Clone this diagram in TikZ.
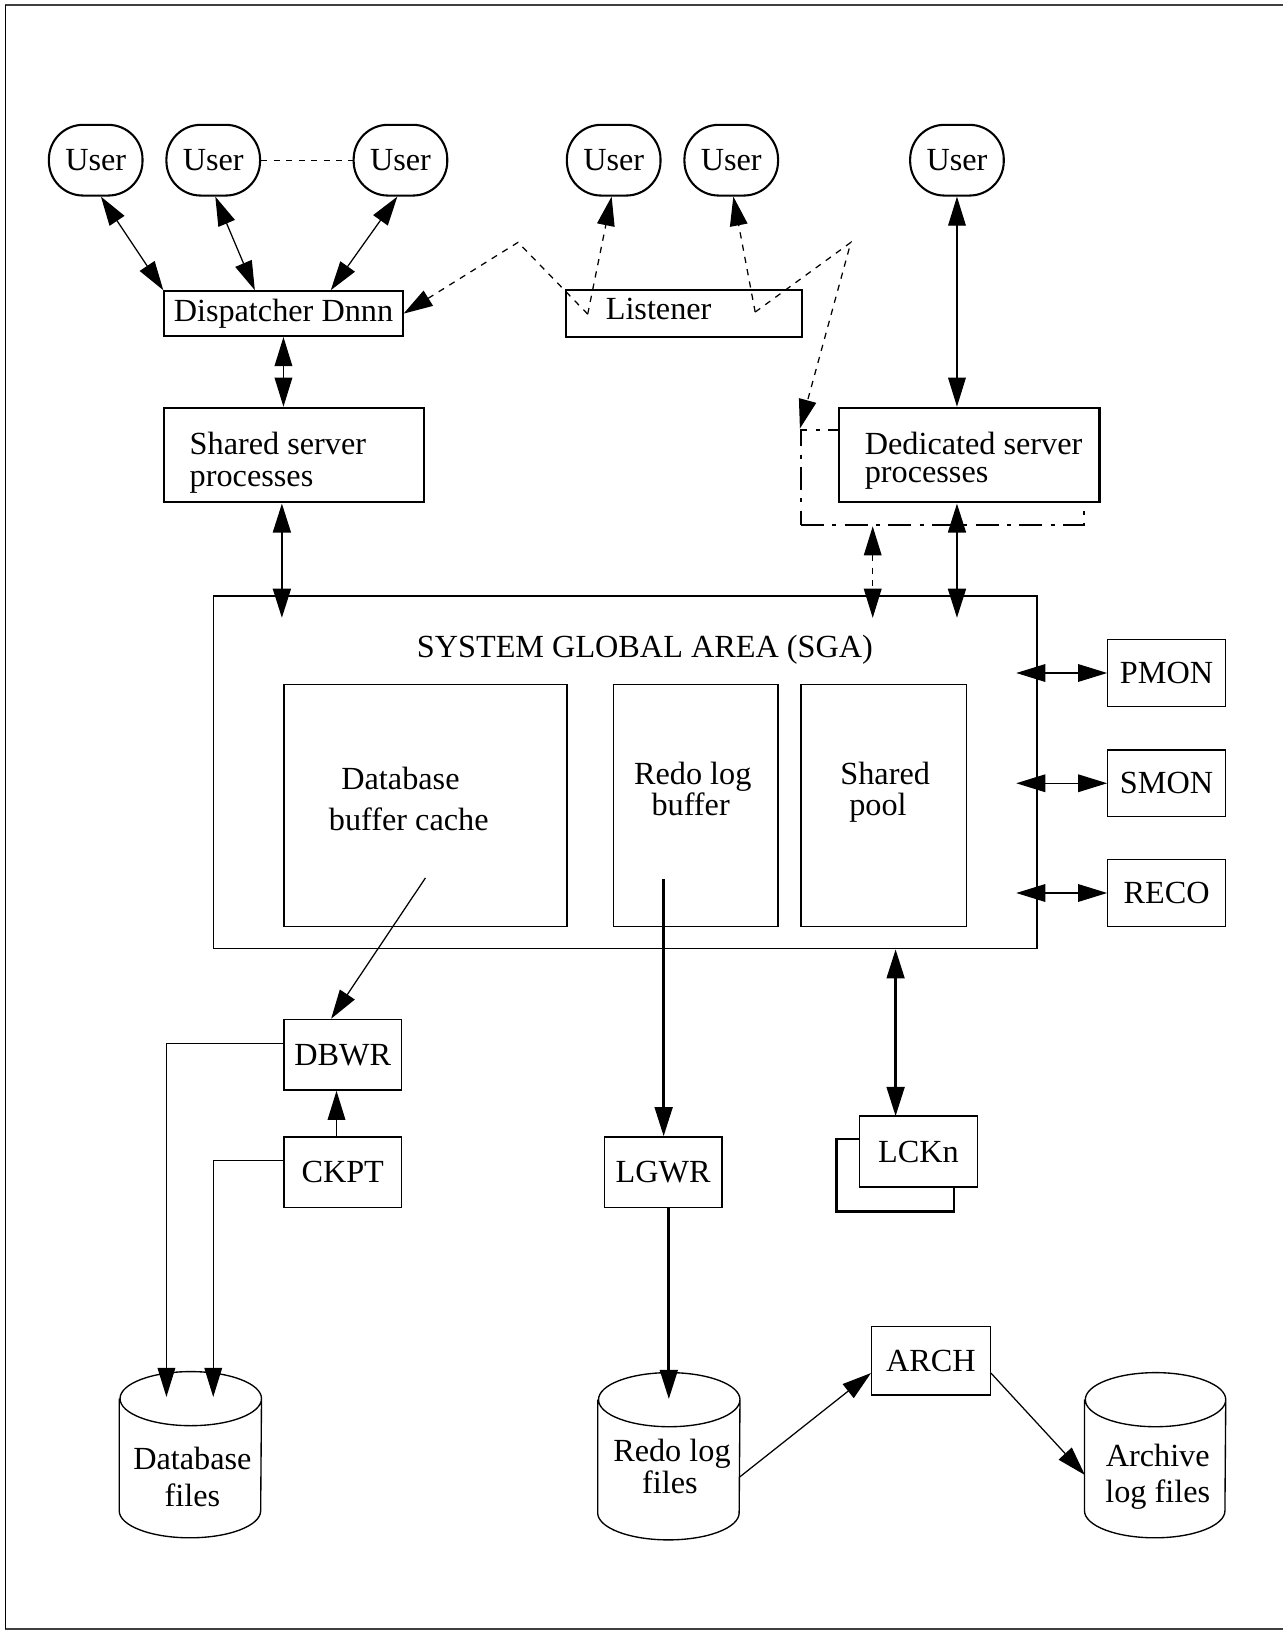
\documentclass[tikz,border=0pt]{standalone}
\usepackage{fontspec}
\setmainfont{Liberation Serif}
\usetikzlibrary{arrows.meta}
\begin{document}
\begin{tikzpicture}[x=0.5pt,y=0.5pt,
  font=\fontsize{15.5pt}{17pt}\selectfont,
  >={Triangle[length=14pt,width=8.5pt]},
  usr/.style={draw,line width=1pt,rounded corners=16.5pt,minimum width=45pt,minimum height=34pt,inner sep=0pt},
  pbox/.style={draw,line width=1pt,fill=white,inner sep=0pt},
  tbox/.style={draw,line width=0.65pt,fill=white,inner sep=0pt},
  dbox/.style={tbox,minimum width=56.5pt,minimum height=32pt},
  lbl/.style={inner sep=0pt,anchor=base},
  conn/.style={line width=0.6pt},
  hconn/.style={line width=1.3pt},
  dotconn/.style={line width=0.6pt,dash pattern=on 3pt off 3pt},
  dashdot/.style={line width=1pt,dash pattern=on 11pt off 4pt on 2pt off 4pt}]

\useasboundingbox (0,0) rectangle (1233,-1568);

% page frame
\draw[line width=1pt,black!75] (1233,-5) -- (5,-5);
\draw[line width=1pt,black!75] (5,-1566) -- (1233,-1566);
\draw[line width=0.6pt] (5,-5) -- (5,-1566);

% users
\node[usr] (u1) at (92,-154) {User};
\node[usr] (u2) at (205,-154) {User};
\node[usr] (u3) at (385,-154) {User};
\node[usr] (u4) at (590,-154) {User};
\node[usr] (u5) at (703,-154) {User};
\node[usr] (u6) at (920,-154) {User};

% dispatcher, listener, server processes
\node[pbox,minimum width=114.5pt,minimum height=21.5pt] (disp) at (272.5,-301.5) {Dispatcher Dnnn};
\node[pbox,minimum width=113.5pt,minimum height=22.5pt] (lsn) at (657.5,-301.5) {};
\node[lbl,anchor=base west] (lsntext) at (582,-307) {Listener};

\node[pbox,minimum width=125pt,minimum height=45.5pt] (shared) at (283,-437.5) {};
\node[inner sep=0pt,anchor=west,align=left,font=\fontsize{15.5pt}{15.5pt}\selectfont]
  (shtext) at (182,-445) {Shared server\\processes};

\node[draw,dashdot,inner sep=0pt,minimum width=136pt,minimum height=46pt] (shadow) at (906,-459) {};
\node[pbox,minimum width=125pt,minimum height=45.5pt] (dedic) at (932,-437.5) {};
\node[inner sep=0pt,anchor=west,align=left,font=\fontsize{15.5pt}{13.5pt}\selectfont]
  (detext) at (831,-443) {Dedicated server\\processes};

% system global area
\node[tbox,fill=none,minimum width=396pt,minimum height=169.5pt] (sga) at (601,-742.5) {};
\node[lbl] (sgat) at (620,-632) {SYSTEM GLOBAL AREA (SGA)};
\node[tbox,minimum width=136pt,minimum height=116.5pt] (dbc) at (409,-774.5) {};
\node[lbl] (dbc1) at (385,-759) {Database};
\node[lbl] (dbc2) at (393,-798) {buffer cache};
\node[tbox,minimum width=79pt,minimum height=116.5pt] (rlb) at (669,-774.5) {};
\node[lbl] (rlb1) at (666,-754) {Redo log};
\node[lbl] (rlb2) at (664,-784) {buffer};
\node[tbox,minimum width=79.5pt,minimum height=116.5pt] (spool) at (849.5,-774.5) {};
\node[lbl] (sp1) at (851,-754) {Shared};
\node[lbl] (sp2) at (844,-784) {pool};

% background processes
\node[dbox] (pmon) at (1121.5,-647) {PMON};
\node[dbox] (smon) at (1121.5,-753) {SMON};
\node[dbox] (reco) at (1121.5,-858.5) {RECO};
\node[dbox,minimum height=34pt] (dbwr) at (329.5,-1014) {DBWR};
\node[dbox,minimum height=34pt] (ckpt) at (329.5,-1127) {CKPT};
\node[dbox,minimum height=34pt] (lgwr) at (637.5,-1127) {LGWR};
\node[draw,line width=1.3pt,inner sep=0pt,minimum width=56.5pt,minimum height=35pt] (lckb) at (860.5,-1130) {};
\node[dbox,minimum width=57pt,minimum height=34pt] (lckn) at (883,-1107) {LCKn};
\node[dbox,minimum width=57pt,minimum height=33pt] (arch) at (895,-1308) {ARCH};

% disk files
\newcommand\drum[2]{%
  \draw[line width=0.65pt] ([yshift=-13pt]#1.north west) -- ([yshift=13pt]#1.south west)
    arc[start angle=180,end angle=360,x radius=#2,y radius=13pt]
    -- ([yshift=-13pt]#1.north east)
    arc[start angle=0,end angle=180,x radius=#2,y radius=13pt]
    arc[start angle=180,end angle=360,x radius=#2,y radius=13pt];}
\node[inner sep=0pt,minimum width=68pt,minimum height=79.5pt] (dbf) at (183,-1398.5) {};
\drum{dbf}{34pt}
\node[lbl] (dbf1) at (185,-1413) {Database};
\node[lbl] (dbf2) at (185,-1448) {files};
\node[inner sep=0pt,minimum width=68pt,minimum height=80pt] (rlf) at (643,-1400) {};
\drum{rlf}{34pt}
\node[lbl] (rlf1) at (646,-1405) {Redo log};
\node[lbl] (rlf2) at (644,-1436) {files};
\node[inner sep=0pt,minimum width=67.5pt,minimum height=79pt] (alf) at (1110.5,-1399) {};
\drum{alf}{33.75pt}
\node[lbl] (alf1) at (1113,-1410) {Archive};
\node[lbl] (alf2) at (1113,-1444) {log files};

% user connections
\draw[conn,<->] ([xshift=2.5pt]u1.south) -- (disp.north west);
\draw[conn,<->] ([xshift=1pt]u2.south) -- ([xshift=-13.75pt]disp.north);
\draw[conn,<->] ([xshift=-1.5pt]u3.south) -- ([xshift=22.75pt]disp.north);
\draw[dotconn] (u2.east) -- (u3.west);

% listener hand-offs
\coordinate (l1) at (565,-302);
\coordinate (l2) at (726,-300);
\coordinate (k1) at (498,-233);
\coordinate (k2) at (818,-233);
\draw[dotconn,->] (l1) -- (k1) -- (disp.east);
\draw[dotconn,->] (l1) -- ([xshift=-1pt]u4.south);
\draw[dotconn,->] (l2) -- ([xshift=1pt]u5.south);
\draw[dotconn,->] (l2) -- (k2) -- (shadow.north west);

% server processes
\draw[conn,<->] (disp.south) -- (disp.south |- shared.north);
\draw[conn,<->] (u6.south) -- (u6.south |- dedic.north);
\coordinate (sgaA) at (271,-594);
\coordinate (sgaB) at (920,-594);
\coordinate (sgaC) at (839,-594);
\draw[hconn,<->] (sgaA |- shared.south) -- (sgaA);
\draw[hconn,<->] (sgaB |- dedic.south) -- (sgaB);
\draw[line width=0.6pt,dash pattern=on 3pt off 3pt,<->] (sgaC |- shadow.south) -- (sgaC);

% monitors
\coordinate (pm) at (977,-647);
\coordinate (sm) at (977,-753);
\coordinate (rc) at (977,-858.5);
\draw[conn,<->] (pm) -- (pmon.west);
\draw[conn,<->] (sm) -- (smon.west);
\draw[conn,<->] (rc) -- (reco.west);

% writers
\coordinate (dbcout) at (409,-844);
\draw[conn,->] (dbcout) -- ([xshift=23pt]dbwr.north west);
\draw[conn,->] ([xshift=-3pt]ckpt.north) -- ([xshift=-3pt]dbwr.south);
\coordinate (dbfA) at (160,-1343);
\coordinate (dbfB) at (205,-1343);
\draw[conn,->] ([yshift=5.5pt]dbwr.west) -| (dbfA);
\draw[conn,->] ([yshift=5.5pt]ckpt.west) -| (dbfB);
\coordinate (rlbout) at (638,-845);
\draw[hconn,->] (rlbout) -- (rlbout |- lgwr.north);
\coordinate (rlfA) at (643,-1345);
\draw[hconn,->] (rlfA |- lgwr.south) -- (rlfA);
\coordinate (lk) at (861,-1073);
\draw[hconn,<->] (lk |- sga.south) -- (lk);

% archiving
\coordinate (rlfout) at (711,-1420);
\coordinate (alfin) at (1043,-1418);
\draw[conn,->] (rlfout) -- ([yshift=-6pt]arch.west);
\draw[conn,->] ([yshift=-6pt]arch.east) -- (alfin);
\end{tikzpicture}
\end{document}
